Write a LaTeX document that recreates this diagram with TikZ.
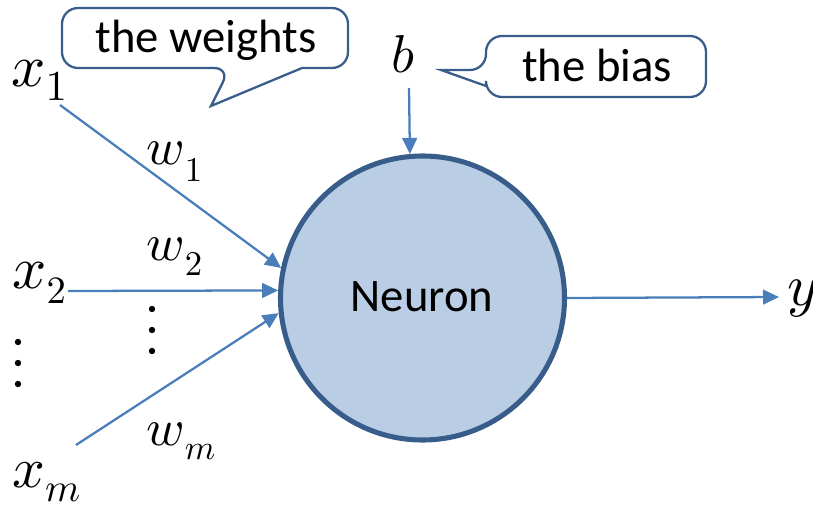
\documentclass[tikz,border=0pt]{standalone}
\usepackage{graphicx}
\usepackage{fontspec}
\setmainfont{Carlito}
\usetikzlibrary{arrows.meta}
\definecolor{arrowblue}{HTML}{4A7EBB}
\definecolor{darkblue}{HTML}{385D8A}
\definecolor{fillblue}{HTML}{B9CDE5}
% letter, scale, subscript, subscript scale, drop
\newcommand\mvar[5]{\scalebox{#2}{$#1$}\raisebox{-#5}{\scalebox{#4}{$#3$}}}
\begin{document}
\begin{tikzpicture}[x=0.75pt,y=-0.75pt,
  arr/.style={draw=arrowblue, line width=1.7pt, -{Triangle[length=12pt,width=11pt]}},
  neuron/.style={circle, draw=darkblue, fill=fillblue, line width=3.8pt, minimum size=213pt, inner sep=0pt},
  callout/.style={draw=darkblue, fill=white, line width=1.7pt},
  txt/.style={inner sep=0pt, anchor=base, font=\fontsize{35}{42}\selectfont},
  lab/.style={inner sep=0pt, anchor=base west},
  vdot/.style={fill=black}]
\useasboundingbox (0,0) rectangle (813,506);

% callouts
\draw[callout, rounded corners=12] (200,8) -- (62,8) -- (62,68) -- (230,68)
  [sharp corners] -- (211,106) -- (302,68) [rounded corners=12] -- (348,68) -- (348,8) -- cycle;
\node[txt] (wtext) at (206,53) {the weights};

\draw[callout, rounded corners=12] (600,36) -- (486,36) -- (486,70)
  [sharp corners] -- (441,70) -- (486,86) [rounded corners=12] -- (486,97) -- (706,97) -- (706,36) -- cycle;
\node[txt] (btext) at (597,82) {the bias};

% neuron
\node[neuron] (n) at (422.5,298) {};
\node[txt] (ntext) at (422,311) {Neuron};

% labels
\node[lab] (x1) at (11,87) {\mvar{x}{4.5}{1}{3.2}{9.75pt}};
\node[lab] (x2) at (12,288) {\mvar{x}{4.5}{2}{2.9}{11.25pt}};
\node[lab] (xm) at (12,487) {\mvar{x}{4.3}{m}{3.0}{11pt}};
\node[lab] (w1) at (146,165) {\mvar{w}{3.9}{1}{2.6}{12.75pt}};
\node[lab] (w2) at (146,260) {\mvar{w}{3.9}{2}{2.6}{11.25pt}};
\node[lab] (wm) at (146,445) {\mvar{w}{3.9}{m}{2.6}{11pt}};
\node[lab] (b) at (391,73) {\scalebox{4.0}{$b$}};
\node[lab] (y) at (787,305) {\scalebox{4.4}{$y$}};

% connector ends
\coordinate (s1) at (60,105);
\coordinate (s2) at (68,291);
\coordinate (sm) at (76,445);
\coordinate (sb) at (409,88);
\coordinate (out) at (779,297);

\draw[arr] (s1) -- (n.168);
\draw[arr] (s2) -- (n.177.2);
\draw[arr] (sm) -- (n.186);
\draw[arr] (sb) -- (n.95.2);
\draw[arr] (n.0) -- (out);

% dots
\foreach \yy in {309,330,351} \fill[vdot] (152,\yy) circle[radius=3.2];
\foreach \yy in {342,363,384} \fill[vdot] (18,\yy) circle[radius=3.2];
\end{tikzpicture}
\end{document}
